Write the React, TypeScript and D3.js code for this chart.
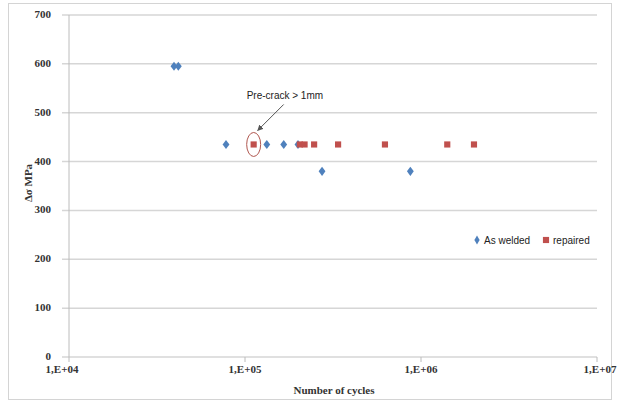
import React, { useEffect, useRef } from 'react'
import * as d3 from 'd3'

// values
const asWeldedCycles = [39500, 41800, 78000, 133000, 166000, 200000, 274000, 870000]
const asWeldedStress = [595, 595, 435, 435, 435, 435, 380, 380]
const repairedCycles = [112000, 205000, 218000, 247000, 338000, 624000, 1410000, 2000000]
const repairedStress = [435, 435, 435, 435, 435, 435, 435, 435]
const yTicks = [0, 100, 200, 300, 400, 500, 600, 700]
const xTicks = [1e4, 1e5, 1e6, 1e7]
const xTickLabels = ['1,E+04', '1,E+05', '1,E+06', '1,E+07']
const legendLabels = ['As welded', 'repaired']
const noteText = 'Pre-crack > 1mm'
const noteCycles = 112000
const noteStress = 435

const App = () => {
	const ref = useRef<SVGSVGElement>(null)
	const width = 617,
		height = 404

	useEffect(() => {
		document.body.style.margin = '0'
		const svg = d3.select(ref.current)
		svg.selectAll('*').remove()

		const x = d3.scaleLog().domain([1e4, 1e7]).range([69, 597])
		const y = d3.scaleLinear().domain([0, 700]).range([357, 15])
		const serif = 'Liberation Serif, Times New Roman, serif'
		const sans = 'Liberation Sans, Arial, sans-serif'

		// chart border
		svg.append('rect')
			.attr('x', 8.5).attr('y', 3.5)
			.attr('width', 603).attr('height', 396)
			.attr('fill', 'white')
			.attr('stroke', '#d4d4d4')

		// horizontal grid
		svg.append('g')
			.selectAll('line')
			.data(yTicks)
			.enter()
			.append('line')
			.attr('x1', 62)
			.attr('x2', x(1e7))
			.attr('y1', d => y(d))
			.attr('y2', d => y(d))
			.attr('stroke', '#d6d6d6')
			.attr('stroke-width', 1.5)

		// y axis line
		svg.append('line')
			.attr('x1', 69).attr('x2', 69)
			.attr('y1', y(700)).attr('y2', y(0))
			.attr('stroke', '#bcbcbc')

		// x ticks
		svg.append('g')
			.selectAll('line')
			.data(xTicks)
			.enter()
			.append('line')
			.attr('x1', d => x(d))
			.attr('x2', d => x(d))
			.attr('y1', y(0))
			.attr('y2', y(0) + 5)
			.attr('stroke', '#bcbcbc')

		svg.append('g')
			.selectAll('text')
			.data(yTicks)
			.enter()
			.append('text')
			.attr('x', 51)
			.attr('y', d => y(d) + 3)
			.attr('text-anchor', 'end')
			.attr('font-family', serif)
			.attr('font-weight', 'bold')
			.attr('font-size', 11)
			.attr('fill', '#333')
			.text(d => d)

		svg.append('g')
			.selectAll('text')
			.data(xTicks)
			.enter()
			.append('text')
			.attr('x', (d, i) => x(d) - (i === 0 ? 7 : i === 3 ? -3 : 0))
			.attr('y', 373)
			.attr('text-anchor', 'middle')
			.attr('font-family', serif)
			.attr('font-weight', 'bold')
			.attr('font-size', 11)
			.attr('fill', '#333')
			.text((d, i) => xTickLabels[i])

		svg.append('text')
			.attr('x', 334)
			.attr('y', 394)
			.attr('text-anchor', 'middle')
			.attr('font-family', serif)
			.attr('font-weight', 'bold')
			.attr('font-size', 11)
			.attr('fill', '#333')
			.text('Number of cycles')

		svg.append('text')
			.attr('transform', 'translate(32,183) rotate(-90)')
			.attr('text-anchor', 'middle')
			.attr('font-family', serif)
			.attr('font-weight', 'bold')
			.attr('font-size', 11)
			.attr('fill', '#333')
			.text('Δσ MPa')

		const diamond = d3.symbol().type(d3.symbolDiamond).size(24)
		const square = d3.symbol().type(d3.symbolSquare).size(38)

		svg.append('g')
			.selectAll('path')
			.data(asWeldedCycles)
			.enter()
			.append('path')
			.attr('d', diamond)
			.attr('transform', (d, i) => `translate(${x(d)},${y(asWeldedStress[i])}) scale(1.3,1)`)
			.attr('fill', '#4F81BD')

		svg.append('g')
			.selectAll('path')
			.data(repairedCycles)
			.enter()
			.append('path')
			.attr('d', square)
			.attr('transform', (d, i) => `translate(${x(d)},${y(repairedStress[i])})`)
			.attr('fill', '#C0504D')

		// annotation
		const nx = x(noteCycles),
			ny = y(noteStress)
		svg.append('ellipse')
			.attr('cx', nx).attr('cy', ny)
			.attr('rx', 7).attr('ry', 12)
			.attr('fill', 'none')
			.attr('stroke', '#b0574f')
			.attr('stroke-width', 1)

		svg.append('defs')
			.append('marker')
			.attr('id', 'arrow')
			.attr('viewBox', '0 0 10 10')
			.attr('refX', 9).attr('refY', 5)
			.attr('markerWidth', 6).attr('markerHeight', 6)
			.attr('orient', 'auto')
			.append('path')
			.attr('d', 'M0,0 L10,5 L0,10 z')
			.attr('fill', '#555')

		svg.append('line')
			.attr('x1', nx + 30).attr('y1', ny - 40)
			.attr('x2', nx + 4).attr('y2', ny - 14)
			.attr('stroke', '#555')
			.attr('stroke-width', 1)
			.attr('marker-end', 'url(#arrow)')

		svg.append('text')
			.attr('x', nx - 7)
			.attr('y', ny - 45)
			.attr('font-family', sans)
			.attr('font-size', 10)
			.attr('fill', '#222')
			.text(noteText)

		// legend
		const legend = svg.append('g').attr('transform', 'translate(477,240)')
		legend.append('path')
			.attr('d', diamond)
			.attr('fill', '#4F81BD')
		legend.append('text')
			.attr('x', 7).attr('y', 3.5)
			.attr('font-family', sans)
			.attr('font-size', 10)
			.attr('fill', '#222')
			.text(legendLabels[0])
		legend.append('path')
			.attr('d', square)
			.attr('transform', 'translate(69,0)')
			.attr('fill', '#C0504D')
		legend.append('text')
			.attr('x', 76).attr('y', 3.5)
			.attr('font-family', sans)
			.attr('font-size', 10)
			.attr('fill', '#222')
			.text(legendLabels[1])
	}, [])

	return <svg ref={ref} width={width} height={height} style={{ display: 'block' }}></svg>
}

export default App
